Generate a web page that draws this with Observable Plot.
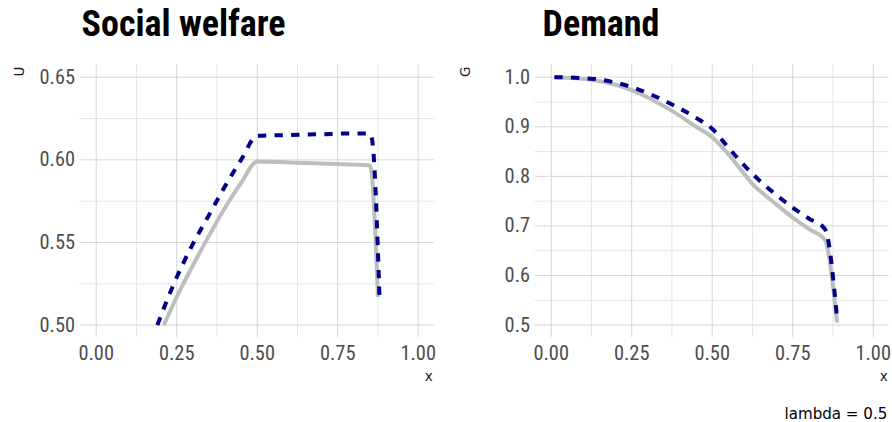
<!DOCTYPE html>
<html>
<head>
<meta charset="utf-8">
<script src="https://cdn.jsdelivr.net/npm/d3@7"></script>
<script src="https://cdn.jsdelivr.net/npm/@observablehq/plot@0.6"></script>
<style>
  html, body { margin: 0; padding: 0; background: #fff; }
  #wrap { display: flex; width: 892px; height: 422px; }
  #wrap svg { display: block; }
</style>
</head>
<body>
<div id="wrap"></div>
<script>
// ---- Social welfare panel (U vs x) ----
const welfareXBase = [0.21, 0.25, 0.30, 0.35, 0.40, 0.45, 0.50, 0.60, 0.70, 0.80, 0.85, 0.855, 0.875];
const welfareUBase = [0.500, 0.517, 0.536, 0.554, 0.571, 0.586, 0.599, 0.5984, 0.5978, 0.5971, 0.5966, 0.593, 0.517];
const welfareXAlt  = [0.19, 0.24, 0.30, 0.35, 0.40, 0.45, 0.50, 0.60, 0.70, 0.80, 0.85, 0.857, 0.88];
const welfareUAlt  = [0.500, 0.5245, 0.549, 0.5665, 0.584, 0.600, 0.6145, 0.615, 0.6155, 0.616, 0.6158, 0.612, 0.516];

// ---- Demand panel (G vs x) ----
const demandXBase = [0.01, 0.125, 0.25, 0.375, 0.45, 0.50, 0.55, 0.625, 0.70, 0.75, 0.80, 0.85, 0.888];
const demandGBase = [1.000, 0.995, 0.974, 0.932, 0.900, 0.879, 0.845, 0.785, 0.743, 0.717, 0.694, 0.672, 0.505];
const demandXAlt  = [0.01, 0.125, 0.25, 0.375, 0.45, 0.50, 0.55, 0.625, 0.70, 0.75, 0.80, 0.85, 0.855, 0.888];
const demandGAlt  = [1.000, 0.997, 0.980, 0.945, 0.918, 0.896, 0.858, 0.805, 0.762, 0.737, 0.715, 0.694, 0.686, 0.512];

// ---- ticks / labels ----
const xTicks = [0, 0.25, 0.5, 0.75, 1];
const xMinor = [0.125, 0.375, 0.625, 0.875];
const uTicks = [0.50, 0.55, 0.60, 0.65];
const uMinor = [0.525, 0.575, 0.625];
const gTicks = [0.5, 0.6, 0.7, 0.8, 0.9, 1.0];
const gMinor = [0.55, 0.65, 0.75, 0.85, 0.95];
const titles = ["Social welfare", "Demand"];
const yLabels = ["U", "G"];
const xLabel = "x";
const caption = "lambda = 0.5";

const toRows = (xs, ys) => xs.map((x, i) => ({x, y: ys[i]}));

const FONT = "'Roboto Condensed', 'Liberation Sans Narrow', 'DejaVu Sans Condensed', Roboto, sans-serif";
const SMALL_FONT = "'DejaVu Sans', sans-serif";
const GRID = "#d6d6d6";
const GRID_MINOR = "#e0e0e0";
const BASE_COL = "#bebebe";
const ALT_COL = "#00008B";

function panel({title, titleDx, yLabel, base, alt, yDomain, yTicks, yMinor, yFormat, marginLeft, marginRight, withCaption}) {
  const marks = [
    Plot.gridX(xMinor, {stroke: GRID_MINOR, strokeOpacity: 1, strokeWidth: 0.8}),
    Plot.gridY(yMinor, {stroke: GRID_MINOR, strokeOpacity: 1, strokeWidth: 0.8}),
    Plot.gridX(xTicks, {stroke: GRID, strokeOpacity: 1, strokeWidth: 1}),
    Plot.gridY(yTicks, {stroke: GRID, strokeOpacity: 1, strokeWidth: 1}),
    Plot.axisX(xTicks, {tickSize: 0, tickPadding: 8, fontSize: 20.4, fill: "#4d4d4d", tickFormat: d3.format(".2f"), label: null}),
    Plot.axisY(yTicks, {tickSize: 0, tickPadding: 5, fontSize: 20.4, fill: "#4d4d4d", tickFormat: d3.format(yFormat), label: null}),
    Plot.line(base, {x: "x", y: "y", curve: "monotone-x", stroke: BASE_COL, strokeWidth: 4, strokeLinejoin: "round", strokeLinecap: "butt"}),
    Plot.line(alt, {x: "x", y: "y", curve: "monotone-x", stroke: ALT_COL, strokeWidth: 4, strokeDasharray: "8.3,8.3", strokeLinejoin: "round", strokeLinecap: "butt"}),
    Plot.text([title], {text: d => d, frameAnchor: "top-left", textAnchor: "start", lineAnchor: "bottom", dx: titleDx, dy: -28.8, fontSize: 36, fontWeight: 700, fill: "#000", style: "letter-spacing:0.3px"}),
    Plot.text([yLabel], {text: d => d, frameAnchor: "top-left", textAnchor: "end", lineAnchor: "middle", rotate: -90, dx: -(marginLeft - 19.5), dy: 1.7, fontSize: 13.5, fill: "#1a1a1a", fontFamily: SMALL_FONT}),
    Plot.text([xLabel], {text: d => d, frameAnchor: "bottom-right", textAnchor: "end", lineAnchor: "bottom", dx: -1.5, dy: 43.3, fontSize: 13.5, fill: "#1a1a1a", fontFamily: SMALL_FONT})
  ];
  if (withCaption) {
    marks.push(Plot.text([caption], {text: d => d, frameAnchor: "bottom-right", textAnchor: "end", lineAnchor: "bottom", dx: -2, dy: 81.5, fontSize: 15.1, fill: "#000", fontFamily: SMALL_FONT}));
  }
  return Plot.plot({
    width: 446,
    height: 422,
    marginLeft,
    marginRight,
    marginTop: 64.3,
    marginBottom: 85,
    style: {fontFamily: FONT, background: "#fff", overflow: "visible"},
    x: {domain: [-0.05, 1.05]},
    y: {domain: yDomain},
    marks
  });
}

const wrap = document.getElementById("wrap");
wrap.appendChild(panel({
  title: titles[0], titleDx: 1.5, yLabel: yLabels[0],
  base: toRows(welfareXBase, welfareUBase), alt: toRows(welfareXAlt, welfareUAlt),
  yDomain: [0.4925, 0.6575], yTicks: uTicks, yMinor: uMinor, yFormat: ".2f",
  marginLeft: 79.6, marginRight: 12.2, withCaption: false
}));
wrap.appendChild(panel({
  title: titles[1], titleDx: 7.5, yLabel: yLabels[1],
  base: toRows(demandXBase, demandGBase), alt: toRows(demandXAlt, demandGAlt),
  yDomain: [0.475, 1.025], yTicks: gTicks, yMinor: gMinor, yFormat: ".1f",
  marginLeft: 88.6, marginRight: 3.2, withCaption: true
}));
</script>
</body>
</html>
